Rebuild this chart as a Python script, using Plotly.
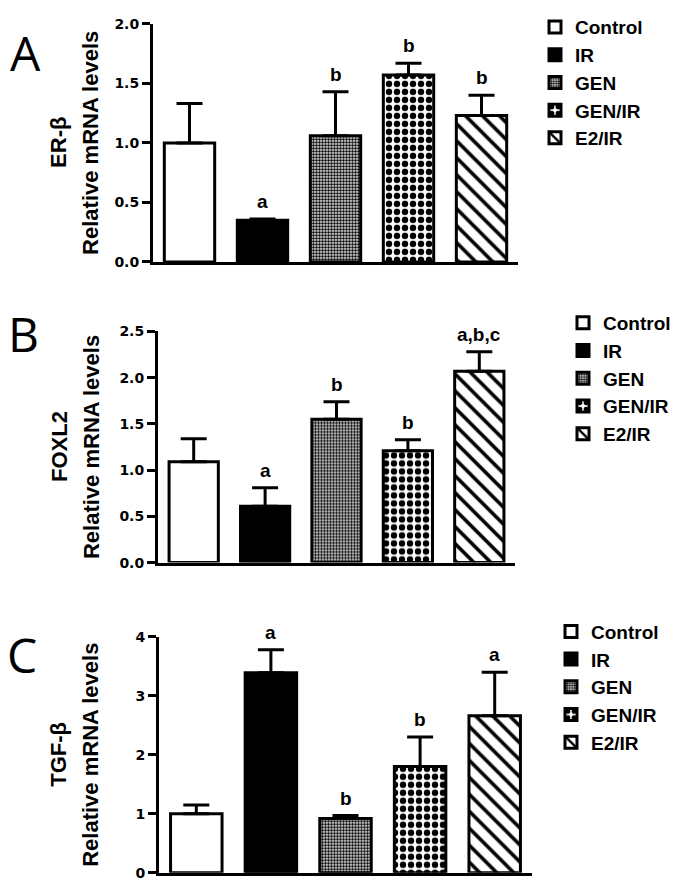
import plotly.graph_objects as go

W, H = 685, 879

groups = ["Control", "IR", "GEN", "GEN/IR", "E2/IR"]

# Panel A: ER-beta
erb_mean = [1.00, 0.35, 1.06, 1.57, 1.23]
erb_err = [0.33, 0.01, 0.37, 0.10, 0.17]
erb_sig = ["", "a", "b", "b", "b"]

# Panel B: FOXL2
foxl2_mean = [1.09, 0.61, 1.55, 1.21, 2.07]
foxl2_err = [0.25, 0.20, 0.19, 0.12, 0.21]
foxl2_sig = ["", "a", "b", "b", "a,b,c"]

# Panel C: TGF-beta
tgfb_mean = [1.00, 3.39, 0.92, 1.80, 2.66]
tgfb_err = [0.15, 0.39, 0.05, 0.50, 0.74]
tgfb_sig = ["", "a", "b", "b", "a"]

panels = [
    dict(mean=erb_mean, err=erb_err, sig=erb_sig, gene="ER-β", letter="A",
         yrange=[0, 2.0], dtick=0.5, fmt=".1f",
         xdom=[145, 510], ydom=[249, 6], legend_px=(527, -10), letter_px=(6, 35)),
    dict(mean=foxl2_mean, err=foxl2_err, sig=foxl2_sig, gene="FOXL2", letter="B",
         yrange=[0, 2.5], dtick=0.5, fmt=".1f",
         xdom=[150, 507], ydom=[556, 320], legend_px=(555, 292), letter_px=(4, 322)),
    dict(mean=tgfb_mean, err=tgfb_err, sig=tgfb_sig, gene="TGF-β", letter="C",
         yrange=[0, 4], dtick=1, fmt="d",
         xdom=[151, 524], ydom=[872.7, 631.7], legend_px=(543, 607), letter_px=(3, 650)),
]

styles = {
    "Control": dict(color="white", pattern=None),
    "IR": dict(color="black", pattern=None),
    "GEN": dict(color="white", pattern=dict(shape=".", size=3, solidity=0.6,
                                             fgcolor="black", bgcolor="white", fillmode="replace")),
    "GEN/IR": dict(color="white", pattern=dict(shape=".", size=8, solidity=0.5,
                                                fgcolor="black", bgcolor="white", fillmode="replace")),
    "E2/IR": dict(color="white", pattern=dict(shape="\\", size=12, solidity=0.3,
                                               fgcolor="black", bgcolor="white", fillmode="replace")),
}

LBL = "Liberation Sans, Arial, sans-serif"
TICK = "DejaVu Sans, sans-serif"

fig = go.Figure()
annotations = []
layout = {}

for i, p in enumerate(panels):
    k = "" if i == 0 else str(i + 1)
    xa, ya = "x" + k, "y" + k
    leg = "legend" + k
    for j, g in enumerate(groups):
        st = styles[g]
        marker = dict(color=st["color"], line=dict(color="black", width=3))
        if st["pattern"]:
            marker["pattern"] = st["pattern"]
        fig.add_trace(go.Bar(
            x=[g], y=[p["mean"][j]], name=g, xaxis=xa, yaxis=ya, legend=leg,
            marker=marker, width=0.69,
            error_y=dict(type="data", array=[p["err"][j]], arrayminus=[0],
                         symmetric=False, color="black", thickness=3, width=13),
        ))
        if p["sig"][j]:
            annotations.append(dict(
                x=g, y=p["mean"][j] + p["err"][j], xref=xa, yref=ya,
                text=p["sig"][j], showarrow=False, yanchor="bottom", yshift=5,
                font=dict(family=LBL, size=19, color="black", weight="bold")))
    x0, x1 = p["xdom"]
    yb, yt = p["ydom"]
    layout["xaxis" + k] = dict(
        domain=[x0 / W, x1 / W], anchor=ya, categoryorder="array", categoryarray=groups,
        range=[-0.5, 4.5], showticklabels=False, ticks="", showline=True,
        linecolor="black", linewidth=3, showgrid=False, zeroline=False, fixedrange=True)
    layout["yaxis" + k] = dict(
        domain=[1 - yb / H, 1 - yt / H], anchor=xa, range=p["yrange"], dtick=p["dtick"],
        tick0=0, tickformat=p["fmt"], ticks="outside", ticklen=8, tickwidth=2.5,
        tickcolor="black", showline=True, linecolor="black", linewidth=3,
        showgrid=False, zeroline=False,
        tickfont=dict(family=TICK, size=14, color="black", weight="bold"))
    lx, ly = p["legend_px"]
    layout[leg] = dict(
        x=lx / W, y=1 - ly / H, xanchor="left", yanchor="top",
        font=dict(family=LBL, size=19, color="black", weight="bold"),
        bgcolor="rgba(0,0,0,0)", borderwidth=0, tracegroupgap=0, itemwidth=30)
    # y-axis title (two lines, rotated)
    ymid = 1 - ((yb + yt) / 2) / H
    annotations.append(dict(
        x=51 / W, y=ymid, xref="paper", yref="paper",
        text=p["gene"], textangle=-90, showarrow=False,
        xanchor="center", yanchor="middle",
        font=dict(family=LBL, size=22, color="black", weight="bold")))
    annotations.append(dict(
        x=83 / W, y=ymid, xref="paper", yref="paper",
        text="Relative mRNA levels", textangle=-90, showarrow=False,
        xanchor="center", yanchor="middle",
        font=dict(family=LBL, size=22, color="black", weight="bold")))
    # panel letter
    lxp, lyp = p["letter_px"]
    annotations.append(dict(
        x=lxp / W, y=1 - lyp / H, xref="paper", yref="paper", text=p["letter"],
        showarrow=False, xanchor="left", yanchor="middle", xshift=-6,
        font=dict(family="Open Sans, sans-serif", size=48, color="black")))

fig.update_layout(
    width=W, height=H, margin=dict(l=0, r=0, t=0, b=0),
    paper_bgcolor="white", plot_bgcolor="white", barmode="overlay",
    showlegend=True, annotations=annotations, **layout)

fig.write_html("out.html")
